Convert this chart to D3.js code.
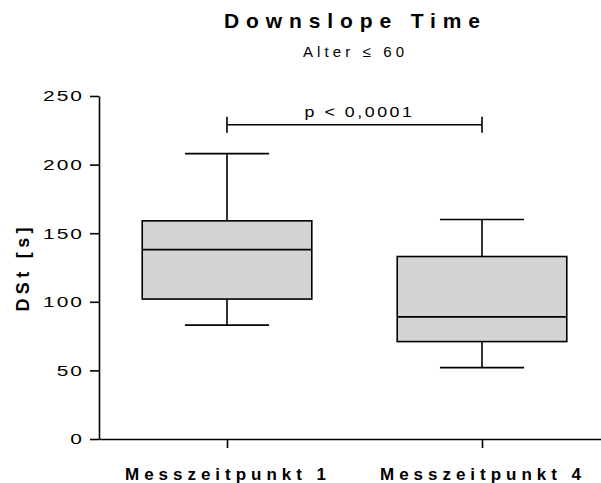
<!DOCTYPE html>
<html>
<head>
<meta charset="utf-8">
<script src="https://cdn.jsdelivr.net/npm/d3@7"></script>
<style>
  body { margin: 0; background: #fff; }
  text { font-family: "Liberation Sans", Arial, sans-serif; }
</style>
</head>
<body>
<div id="chart"></div>
<script>
"use strict";

// == data ==
var groups = ["Messzeitpunkt 1", "Messzeitpunkt 4"];
var whiskerLow = [83, 52];
var q1 = [102, 71];
var median = [138, 89];
var q3 = [159, 133];
var whiskerHigh = [208, 160];
var yTicks = [0, 50, 100, 150, 200, 250];
var pLabel = "p < 0,0001";

var chartW = 601, chartH = 483;
var plotLeft = 99, plotTop = 96, plotBottom = 439;
var titleX = 355;

var svg = d3.select("#chart").append("svg")
  .attr("width", chartW)
  .attr("height", chartH);

// Prism-like wide lettering: spread each label to a fixed length
var spread = function (sel, len) {
  sel.attr("textLength", len).attr("lengthAdjust", "spacing");
};

var y = d3.scaleLinear().domain([0, 250]).range([plotBottom, plotTop]);
var x = d3.scalePoint().domain(groups).range([plotLeft, 610]).padding(0.502);
var boxW = x.step() * 0.665;
var capW = x.step() * 0.33;

// y axis (digits are drawn wide, as in the Prism export)
var yAxis = svg.append("g")
  .attr("transform", "translate(" + plotLeft + ",0)")
  .call(d3.axisLeft(y).tickValues(yTicks).tickSize(9).tickSizeOuter(0));
yAxis.selectAll("text")
  .attr("x", 0)
  .attr("transform", "translate(-15,0) scale(1.35,1)")
  .style("font-size", "15.5px")
  .style("letter-spacing", "1.5px")
  .attr("fill", "#000");

// x axis
var xAxis = svg.append("g")
  .attr("transform", "translate(0," + plotBottom + ")")
  .call(d3.axisBottom(x).tickSize(9).tickPadding(20).tickSizeOuter(0));
xAxis.selectAll("text")
  .style("font-size", "17px")
  .style("font-weight", "bold")
  .style("letter-spacing", "4px")
  .attr("fill", "#000")
  .call(spread, 205);

svg.selectAll(".domain, .tick line")
  .attr("stroke", "#000")
  .attr("stroke-width", 1.6);

// boxes
var rows = groups.map(function (g, i) {
  return { g: g, lo: whiskerLow[i], q1: q1[i], med: median[i], q3: q3[i], hi: whiskerHigh[i] };
});

var box = svg.selectAll(".box")
  .data(rows)
  .enter()
  .append("g")
  .attr("class", "box")
  .attr("stroke", "#000")
  .attr("stroke-width", 1.6);

box.append("line")
  .attr("x1", function (d) { return x(d.g); })
  .attr("x2", function (d) { return x(d.g); })
  .attr("y1", function (d) { return y(d.lo); })
  .attr("y2", function (d) { return y(d.hi); });

box.append("rect")
  .attr("x", function (d) { return x(d.g) - boxW / 2; })
  .attr("width", boxW)
  .attr("y", function (d) { return y(d.q3); })
  .attr("height", function (d) { return y(d.q1) - y(d.q3); })
  .attr("fill", "#d4d4d4");

box.append("line")
  .attr("x1", function (d) { return x(d.g) - boxW / 2; })
  .attr("x2", function (d) { return x(d.g) + boxW / 2; })
  .attr("y1", function (d) { return y(d.med); })
  .attr("y2", function (d) { return y(d.med); });

["lo", "hi"].forEach(function (k) {
  box.append("line")
    .attr("x1", function (d) { return x(d.g) - capW / 2; })
    .attr("x2", function (d) { return x(d.g) + capW / 2; })
    .attr("y1", function (d) { return y(d[k]); })
    .attr("y2", function (d) { return y(d[k]); });
});

// significance bracket
var sigY = y(229);
var sig = svg.append("g").attr("stroke", "#000").attr("stroke-width", 1.6);
sig.append("line")
  .attr("x1", x(groups[0])).attr("x2", x(groups[1]))
  .attr("y1", sigY).attr("y2", sigY);
groups.forEach(function (g) {
  sig.append("line")
    .attr("x1", x(g)).attr("x2", x(g))
    .attr("y1", sigY - 8).attr("y2", sigY + 8);
});
svg.append("text")
  .attr("transform", "translate(" + ((x(groups[0]) + x(groups[1])) / 2 + 5) + "," + (sigY - 8) + ") scale(1.27,1)")
  .attr("text-anchor", "middle")
  .style("font-size", "14px")
  .style("letter-spacing", "2px")
  .text(pLabel);

// titles
svg.append("text")
  .attr("x", titleX)
  .attr("y", 28)
  .attr("text-anchor", "middle")
  .style("font-size", "21px")
  .style("font-weight", "bold")
  .style("letter-spacing", "6px")
  .text("Downslope Time")
  .call(spread, 262);

svg.append("text")
  .attr("x", titleX)
  .attr("y", 57)
  .attr("text-anchor", "middle")
  .style("font-size", "15px")
  .style("letter-spacing", "3px")
  .text("Alter \u2264 60")
  .call(spread, 104);

svg.append("text")
  .attr("transform", "translate(29," + ((plotTop + plotBottom) / 2) + ") rotate(-90)")
  .attr("text-anchor", "middle")
  .style("font-size", "18px")
  .style("font-weight", "bold")
  .style("letter-spacing", "4px")
  .text("DSt [s]")
  .call(spread, 88);
</script>
</body>
</html>
